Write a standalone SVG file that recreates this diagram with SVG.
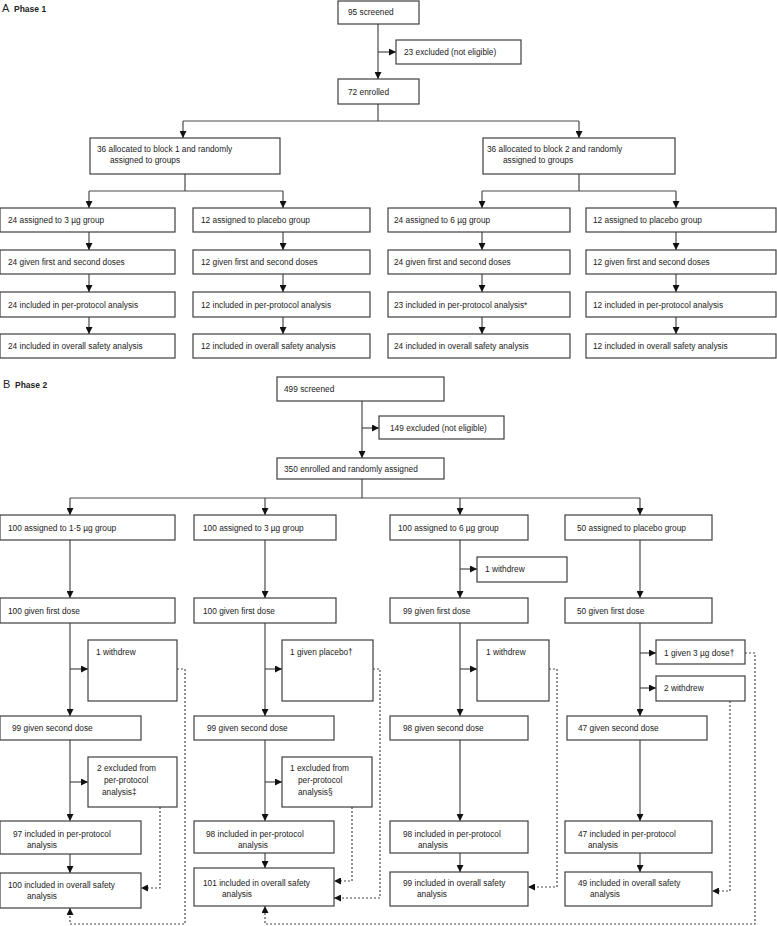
<svg xmlns="http://www.w3.org/2000/svg" width="777" height="926" viewBox="0 0 777 926">
<style>
text{font-family:"Liberation Sans",Arial,sans-serif;font-size:8.3px;fill:#222}
.t{font-size:11px}
.h{font-weight:bold;font-size:8.5px}
rect{fill:#fff;stroke:#3f3f3f;stroke-width:1.2}
.c path{fill:none;stroke:#4a4a4a;stroke-width:1.2}
.c path.a{marker-end:url(#ah)}
.c path.d{stroke-dasharray:2,2;marker-end:url(#ah)}
</style>
<defs>
<marker id="ah" viewBox="0 0 6 6" refX="6" refY="3" markerWidth="7" markerHeight="7" markerUnits="userSpaceOnUse" orient="auto"><path d="M0,0L6,3L0,6z" fill="#111"/></marker>
</defs>
<rect x="0" y="0" width="777" height="926" style="fill:#fff;stroke:none"/>
<g id="titleA"><text x="2" y="12" class="t">A</text><text x="14" y="12" class="h">Phase 1</text></g>
<g id="titleB"><text x="3" y="388" class="t">B</text><text x="15" y="388" class="h">Phase 2</text></g>

<g class="c" id="connectors">
<path class="a" d="M378,24V79"/>
<path class="a" d="M378,52H396"/>
<path d="M378,104V121M183,121H579"/>
<path class="a" d="M183,121V138"/>
<path class="a" d="M579,121V138"/>
<path d="M185,174V191M89,191H283"/>
<path class="a" d="M89,191V208"/>
<path class="a" d="M283,191V208"/>
<path d="M579,174V191M482,191H676"/>
<path class="a" d="M482,191V208"/>
<path class="a" d="M676,191V208"/>
<path class="a" d="M89,232V250"/><path class="a" d="M89,274V292"/><path class="a" d="M89,317V334"/>
<path class="a" d="M283,232V250"/><path class="a" d="M283,274V292"/><path class="a" d="M283,317V334"/>
<path class="a" d="M482,232V250"/><path class="a" d="M482,274V292"/><path class="a" d="M482,317V334"/>
<path class="a" d="M676,232V250"/><path class="a" d="M676,274V292"/><path class="a" d="M676,317V334"/>

<path class="a" d="M362,401V458"/>
<path class="a" d="M362,428H379"/>
<path d="M362,479V498M70,498H640"/>
<path class="a" d="M70,498V515"/><path class="a" d="M265,498V515"/><path class="a" d="M460,498V515"/><path class="a" d="M640,498V515"/>
<path class="a" d="M70,540V598"/><path class="a" d="M70,623V716"/><path class="a" d="M70,669H88"/><path class="a" d="M70,740V821"/><path class="a" d="M70,782H88"/><path class="a" d="M70,854V873"/>
<path class="a" d="M265,540V598"/><path class="a" d="M265,623V716"/><path class="a" d="M265,669H282"/><path class="a" d="M265,740V821"/><path class="a" d="M265,782H282"/><path class="a" d="M265,853V868"/>
<path class="a" d="M460,540V598"/><path class="a" d="M460,569H477"/><path class="a" d="M460,623V716"/><path class="a" d="M460,669H477"/><path class="a" d="M460,740V821"/><path class="a" d="M460,853V872"/>
<path class="a" d="M640,540V598"/><path class="a" d="M640,623V716"/><path class="a" d="M640,653H656"/><path class="a" d="M640,688H656"/><path class="a" d="M640,740V821"/><path class="a" d="M640,853V872"/>
<path class="d" d="M177,669H185V924H70V908"/>
<path class="d" d="M160,807V888H141"/>
<path class="d" d="M373,669H380V898H334"/>
<path class="d" d="M352,807V881H334"/>
<path class="d" d="M549,669H557V887H528"/>
<path class="d" d="M745,653H755V924H265V906"/>
<path class="d" d="M730,701V891H712"/>
</g>

<g id="p1-screened"><rect x="338" y="1" width="81" height="23"/><text x="348" y="15">95 screened</text></g>
<g id="p1-excluded"><rect x="396" y="40" width="125" height="24"/><text x="404" y="55">23 excluded (not eligible)</text></g>
<g id="p1-enrolled"><rect x="338" y="79" width="81" height="25"/><text x="348" y="94.5">72 enrolled</text></g>
<g id="p1-block1"><rect x="90" y="138" width="190" height="36"/><text x="97" y="152">36 allocated to block 1 and randomly</text><text x="110" y="163">assigned to groups</text></g>
<g id="p1-block2"><rect x="483" y="138" width="192" height="36"/><text x="487" y="152">36 allocated to block 2 and randomly</text><text x="503" y="163">assigned to groups</text></g>

<g id="p1-c1-r1"><rect x="0" y="208" width="175" height="24"/><text x="8" y="223">24 assigned to 3 µg group</text></g>
<g id="p1-c1-r2"><rect x="0" y="250" width="175" height="24"/><text x="8" y="265">24 given first and second doses</text></g>
<g id="p1-c1-r3"><rect x="0" y="292" width="175" height="25"/><text x="8" y="307.5">24 included in per-protocol analysis</text></g>
<g id="p1-c1-r4"><rect x="0" y="334" width="175" height="24"/><text x="8" y="349">24 included in overall safety analysis</text></g>

<g id="p1-c2-r1"><rect x="193" y="208" width="177" height="24"/><text x="201" y="223">12 assigned to placebo group</text></g>
<g id="p1-c2-r2"><rect x="193" y="250" width="177" height="24"/><text x="201" y="265">12 given first and second doses</text></g>
<g id="p1-c2-r3"><rect x="193" y="292" width="177" height="25"/><text x="201" y="307.5">12 included in per-protocol analysis</text></g>
<g id="p1-c2-r4"><rect x="193" y="334" width="177" height="24"/><text x="201" y="349">12 included in overall safety analysis</text></g>

<g id="p1-c3-r1"><rect x="388" y="208" width="182" height="24"/><text x="394" y="223">24 assigned to 6 µg group</text></g>
<g id="p1-c3-r2"><rect x="388" y="250" width="182" height="24"/><text x="394" y="265">24 given first and second doses</text></g>
<g id="p1-c3-r3"><rect x="388" y="292" width="182" height="25"/><text x="394" y="307.5">23 included in per-protocol analysis*</text></g>
<g id="p1-c3-r4"><rect x="388" y="334" width="182" height="24"/><text x="394" y="349">24 included in overall safety analysis</text></g>

<g id="p1-c4-r1"><rect x="586" y="208" width="190" height="24"/><text x="593" y="223">12 assigned to placebo group</text></g>
<g id="p1-c4-r2"><rect x="586" y="250" width="190" height="24"/><text x="593" y="265">12 given first and second doses</text></g>
<g id="p1-c4-r3"><rect x="586" y="292" width="190" height="25"/><text x="593" y="307.5">12 included in per-protocol analysis</text></g>
<g id="p1-c4-r4"><rect x="586" y="334" width="190" height="24"/><text x="593" y="349">12 included in overall safety analysis</text></g>

<g id="p2-screened"><rect x="277" y="377" width="167" height="24"/><text x="284" y="392">499 screened</text></g>
<g id="p2-excluded"><rect x="379" y="416" width="125" height="23"/><text x="390" y="431">149 excluded (not eligible)</text></g>
<g id="p2-enrolled"><rect x="277" y="458" width="167" height="21"/><text x="284" y="471.5">350 enrolled and randomly assigned</text></g>

<g id="p2-c1-assigned"><rect x="0" y="515" width="175" height="25"/><text x="8" y="530.5">100 assigned to 1·5 µg group</text></g>
<g id="p2-c1-dose1"><rect x="0" y="598" width="175" height="25"/><text x="8" y="613.5">100 given first dose</text></g>
<g id="p2-c1-withdrew"><rect x="88" y="640" width="89" height="61"/><text x="96" y="655">1 withdrew</text></g>
<g id="p2-c1-dose2"><rect x="0" y="716" width="141" height="24"/><text x="12" y="731">99 given second dose</text></g>
<g id="p2-c1-excl"><rect x="88" y="757" width="89" height="50"/><text x="97" y="771">2 excluded from</text><text x="104" y="783">per-protocol</text><text x="102" y="795">analysis‡</text></g>
<g id="p2-c1-pp"><rect x="0" y="821" width="141" height="33"/><text x="13" y="837">97 included in per-protocol</text><text x="27" y="848">analysis</text></g>
<g id="p2-c1-safety"><rect x="0" y="873" width="141" height="35"/><text x="8" y="888">100 included in overall safety</text><text x="27" y="899">analysis</text></g>

<g id="p2-c2-assigned"><rect x="194" y="515" width="142" height="25"/><text x="203" y="530.5">100 assigned to 3 µg group</text></g>
<g id="p2-c2-dose1"><rect x="194" y="598" width="142" height="25"/><text x="203" y="613.5">100 given first dose</text></g>
<g id="p2-c2-placebo"><rect x="282" y="640" width="91" height="61"/><text x="290" y="655">1 given placebo†</text></g>
<g id="p2-c2-dose2"><rect x="194" y="716" width="140" height="24"/><text x="207" y="731">99 given second dose</text></g>
<g id="p2-c2-excl"><rect x="282" y="757" width="90" height="50"/><text x="290" y="771">1 excluded from</text><text x="298" y="783">per-protocol</text><text x="298" y="795">analysis§</text></g>
<g id="p2-c2-pp"><rect x="194" y="821" width="140" height="32"/><text x="206" y="837">98 included in per-protocol</text><text x="238" y="848">analysis</text></g>
<g id="p2-c2-safety"><rect x="194" y="868" width="140" height="38"/><text x="203" y="886">101 included in overall safety</text><text x="222" y="897">analysis</text></g>

<g id="p2-c3-assigned"><rect x="390" y="515" width="138" height="25"/><text x="398" y="530.5">100 assigned to 6 µg group</text></g>
<g id="p2-c3-withdrew1"><rect x="477" y="557" width="90" height="25"/><text x="485" y="572">1 withdrew</text></g>
<g id="p2-c3-dose1"><rect x="390" y="598" width="138" height="25"/><text x="403" y="613.5">99 given first dose</text></g>
<g id="p2-c3-withdrew2"><rect x="477" y="640" width="72" height="61"/><text x="486" y="655">1 withdrew</text></g>
<g id="p2-c3-dose2"><rect x="390" y="716" width="138" height="24"/><text x="403" y="731">98 given second dose</text></g>
<g id="p2-c3-pp"><rect x="390" y="821" width="138" height="32"/><text x="403" y="837">98 included in per-protocol</text><text x="418" y="848">analysis</text></g>
<g id="p2-c3-safety"><rect x="390" y="872" width="138" height="34"/><text x="403" y="886">99 included in overall safety</text><text x="417" y="897">analysis</text></g>

<g id="p2-c4-assigned"><rect x="565" y="515" width="147" height="25"/><text x="577" y="530.5">50 assigned to placebo group</text></g>
<g id="p2-c4-dose1"><rect x="565" y="598" width="147" height="25"/><text x="577" y="613.5">50 given first dose</text></g>
<g id="p2-c4-given3"><rect x="656" y="640" width="89" height="24"/><text x="664" y="655.5">1 given 3 µg dose†</text></g>
<g id="p2-c4-withdrew"><rect x="656" y="676" width="89" height="25"/><text x="664" y="691">2 withdrew</text></g>
<g id="p2-c4-dose2"><rect x="567" y="716" width="140" height="24"/><text x="578" y="731">47 given second dose</text></g>
<g id="p2-c4-pp"><rect x="565" y="821" width="147" height="32"/><text x="578" y="837">47 included in per-protocol</text><text x="588" y="848">analysis</text></g>
<g id="p2-c4-safety"><rect x="565" y="872" width="147" height="34"/><text x="578" y="886">49 included in overall safety</text><text x="590" y="897">analysis</text></g>
</svg>
